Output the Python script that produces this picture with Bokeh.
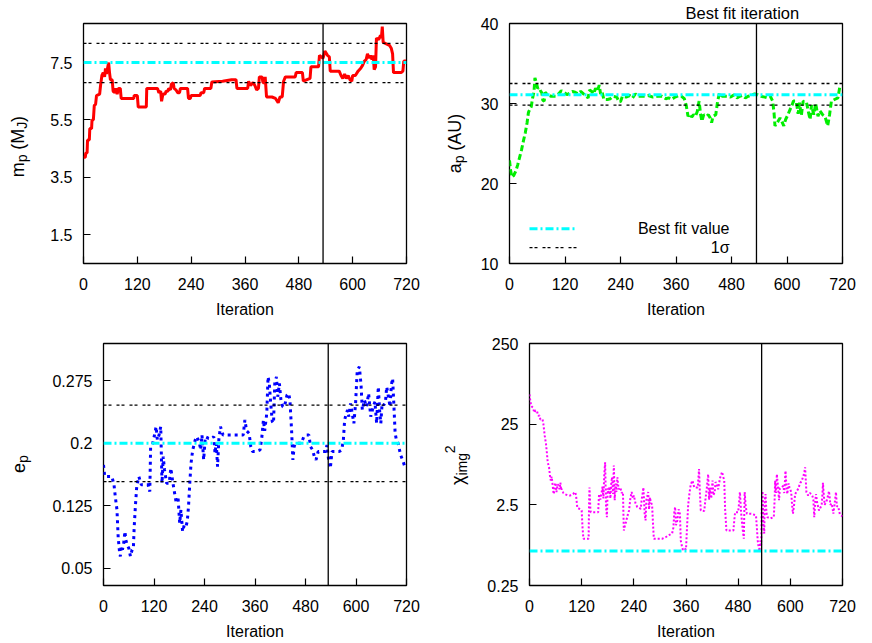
import math
from bokeh.plotting import figure
from bokeh.models import Range1d, FixedTicker, Span, Label, PrintfTickFormatter, ColumnDataSource
from bokeh.core.properties import value
from bokeh.layouts import column, row
from bokeh.embed import file_html
from bokeh.resources import INLINE

FONT = "Liberation Sans"

# ---------------- data ----------------
iter_ticks = [0, 120, 240, 360, 480, 600, 720]
best_iter = 534

# planet mass chain
m_iter = [0, 4, 5, 8, 9, 13, 14, 18, 19, 22, 24, 27, 29, 36, 38, 41, 44, 47, 49, 51, 53, 56, 58, 60, 64, 66, 70, 72,
          75, 78, 82, 84, 112, 113, 120, 122, 140, 141, 165, 168, 172, 174, 177, 182, 184, 188, 190, 194, 196, 200,
          202, 206, 210, 214, 216, 232, 234, 238, 240, 260, 262, 268, 270, 284, 286, 310, 330, 340, 342, 366, 368,
          372, 378, 382, 386, 390, 392, 398, 400, 403, 405, 408, 420, 428, 434, 438, 443, 446, 450, 472, 474, 488,
          490, 505, 507, 524, 526, 534, 538, 544, 548, 550, 570, 574, 578, 582, 586, 590, 594, 598, 600, 606, 612,
          618, 622, 626, 630, 633, 637, 640, 643, 646, 648, 651, 653, 658, 662, 664, 666, 668, 675, 682, 686, 689,
          691, 708, 712, 714, 719]
m_vals = [4.2, 4.2, 4.35, 4.35, 4.8, 4.8, 5.2, 5.2, 5.5, 5.5, 6.0, 6.05, 6.35, 6.4, 6.7, 7.05, 7.15, 7.0, 7.3, 7.1,
          7.25, 7.5, 7.15, 6.9, 6.9, 6.5, 6.45, 6.6, 6.4, 6.6, 6.6, 6.25, 6.25, 6.35, 6.35, 5.95, 5.95, 6.6, 6.6,
          6.45, 6.5, 6.15, 6.4, 6.4, 6.5, 6.5, 6.6, 6.55, 6.75, 6.8, 6.6, 6.55, 6.45, 6.45, 6.6, 6.6, 6.25, 6.25,
          6.35, 6.35, 6.45, 6.45, 6.6, 6.6, 6.82, 6.85, 6.9, 6.9, 6.6, 6.6, 6.85, 6.7, 6.8, 6.7, 6.55, 6.6, 7.0,
          7.0, 6.8, 6.8, 7.0, 6.3, 6.3, 6.25, 6.1, 6.3, 6.3, 6.85, 7.0, 7.0, 7.15, 7.15, 6.85, 6.95, 7.35, 7.35,
          7.75, 7.65, 7.9, 7.75, 7.7, 7.2, 7.2, 7.05, 6.95, 7.1, 6.95, 7.05, 6.9, 6.85, 7.05, 7.05, 7.2, 7.3, 7.4,
          7.55, 7.6, 7.8, 7.65, 7.75, 7.6, 7.75, 7.25, 7.35, 8.35, 8.3, 8.45, 8.35, 8.75, 8.2, 8.15, 8.1, 8.0, 7.8,
          7.15, 7.15, 7.2, 7.55, 7.55]
m_best = 7.5
m_sigma = [6.8, 8.17]

# semi-major axis chain
a_iter = [0, 2, 5, 9, 14, 18, 22, 26, 30, 34, 38, 41, 44, 47, 50, 53, 55, 58, 61, 64, 67, 70, 72, 75, 77, 82, 90,
          100, 106, 112, 118, 124, 130, 136, 142, 148, 154, 160, 166, 170, 173, 178, 182, 186, 190, 194, 197, 200,
          204, 212, 218, 224, 232, 236, 240, 244, 252, 260, 266, 272, 278, 290, 300, 310, 320, 330, 338, 344, 350,
          358, 366, 372, 378, 382, 386, 390, 394, 398, 402, 406, 410, 413, 416, 420, 426, 430, 434, 437, 440, 446,
          450, 454, 460, 470, 478, 486, 492, 498, 504, 510, 516, 522, 530, 536, 544, 552, 558, 564, 569, 572, 574,
          578, 581, 585, 590, 593, 597, 602, 607, 611, 614, 620, 624, 627, 631, 635, 642, 646, 650, 653, 658, 662,
          667, 671, 677, 682, 686, 688, 692, 696, 703, 710, 714, 720]
a_vals = [22.9, 21.8, 20.8, 21.0, 21.6, 22.4, 23.3, 24.2, 25.3, 26.3, 27.6, 28.9, 29.3, 29.6, 30.7, 31.5, 33.2, 32.6,
          31.9, 32.0, 31.6, 31.3, 30.4, 30.3, 31.4, 31.1, 30.9, 30.9, 31.2, 31.6, 31.4, 31.1, 31.3, 31.5, 31.4, 31.2,
          31.5, 31.2, 30.9, 30.7, 31.7, 31.5, 31.2, 31.9, 31.5, 32.3, 31.2, 31.5, 30.5, 30.5, 30.6, 30.9, 30.8, 30.3,
          30.2, 30.9, 30.8, 31.0, 30.7, 31.2, 30.9, 30.9, 31.0, 30.8, 30.9, 30.9, 30.6, 30.7, 30.5, 30.8, 31.0, 30.9,
          30.6, 29.8, 28.4, 28.7, 28.3, 28.6, 28.4, 29.0, 30.3, 28.7, 27.8, 28.6, 28.4, 28.6, 28.2, 27.6, 28.4, 28.6,
          30.3, 31.3, 30.9, 30.9, 30.8, 31.1, 30.7, 30.9, 31.0, 30.7, 30.9, 31.0, 31.2, 31.1, 30.9, 30.8, 30.7, 30.9,
          30.3, 28.8, 27.2, 27.5, 27.8, 28.2, 27.6, 27.2, 28.0, 28.6, 29.3, 29.8, 30.3, 30.3, 28.7, 30.1, 28.5, 30.3,
          30.2, 29.0, 28.0, 29.8, 28.6, 30.0, 28.4, 29.1, 28.6, 28.4, 27.6, 27.2, 28.6, 30.3, 30.5, 30.7, 32.0, 32.0]
a_best = 31.1
a_sigma = [29.8, 32.5]

# eccentricity chain
e_iter = [0, 3, 20, 25, 28, 32, 35, 38, 40, 42, 45, 48, 51, 53, 56, 60, 64, 68, 71, 73, 76, 79, 84, 90, 106, 110,
          112, 117, 122, 125, 128, 132, 136, 139, 142, 145, 150, 156, 160, 165, 169, 173, 177, 181, 184, 188, 192,
          196, 199, 202, 205, 208, 212, 218, 222, 228, 231, 234, 238, 242, 250, 258, 262, 265, 268, 271, 274, 278,
          284, 300, 320, 332, 336, 340, 346, 350, 354, 362, 372, 376, 380, 383, 388, 391, 394, 397, 401, 404, 407,
          411, 414, 418, 422, 426, 430, 436, 440, 443, 447, 450, 453, 456, 470, 476, 482, 488, 492, 497, 501, 505,
          510, 520, 528, 531, 535, 539, 543, 550, 560, 566, 570, 573, 577, 580, 583, 587, 591, 595, 599, 603, 608,
          612, 615, 620, 625, 630, 635, 640, 645, 649, 653, 656, 659, 662, 666, 670, 673, 677, 681, 684, 687, 690,
          693, 696, 700, 706, 712, 716, 720]
e_vals = [0.174, 0.160, 0.160, 0.150, 0.136, 0.120, 0.086, 0.070, 0.064, 0.076, 0.072, 0.080, 0.094, 0.084, 0.078,
          0.074, 0.064, 0.072, 0.074, 0.100, 0.126, 0.148, 0.160, 0.150, 0.150, 0.142, 0.196, 0.200, 0.212, 0.220,
          0.204, 0.210, 0.220, 0.152, 0.184, 0.168, 0.152, 0.152, 0.170, 0.152, 0.140, 0.128, 0.136, 0.104, 0.120,
          0.094, 0.102, 0.100, 0.106, 0.124, 0.152, 0.176, 0.192, 0.204, 0.208, 0.200, 0.192, 0.210, 0.180, 0.208,
          0.206, 0.206, 0.208, 0.188, 0.200, 0.172, 0.204, 0.220, 0.210, 0.210, 0.210, 0.210, 0.228, 0.215, 0.212,
          0.196, 0.190, 0.190, 0.192, 0.206, 0.228, 0.215, 0.236, 0.280, 0.272, 0.250, 0.226, 0.224, 0.272, 0.280,
          0.256, 0.272, 0.250, 0.244, 0.244, 0.258, 0.260, 0.252, 0.215, 0.180, 0.196, 0.200, 0.200, 0.208, 0.210,
          0.210, 0.196, 0.192, 0.184, 0.180, 0.190, 0.190, 0.190, 0.198, 0.180, 0.170, 0.190, 0.190, 0.190, 0.192,
          0.204, 0.228, 0.236, 0.240, 0.232, 0.248, 0.236, 0.224, 0.248, 0.288, 0.292, 0.270, 0.240, 0.252, 0.244,
          0.260, 0.232, 0.242, 0.250, 0.224, 0.268, 0.240, 0.224, 0.248, 0.246, 0.250, 0.268, 0.256, 0.244, 0.270,
          0.278, 0.246, 0.212, 0.204, 0.200, 0.186, 0.178, 0.172, 0.170]
e_best = 0.2
e_sigma = [0.154, 0.246]

# imaging chi-square chain
c_iter = [0, 2, 4, 8, 11, 14, 17, 20, 23, 25, 30, 32, 35, 38, 40, 42, 45, 47, 49, 51, 53, 55, 56, 58, 60, 62, 63,
          65, 67, 69, 71, 73, 74, 78, 81, 87, 93, 100, 105, 107, 110, 117, 120, 122, 124, 136, 137, 138, 140, 141,
          158, 160, 163, 166, 168, 170, 172, 174, 176, 178, 180, 182, 184, 186, 188, 190, 192, 194, 196, 198, 200,
          202, 205, 209, 212, 215, 216, 217, 219, 221, 225, 229, 232, 235, 238, 240, 244, 248, 252, 256, 258, 260,
          262, 264, 265, 267, 269, 271, 273, 275, 277, 279, 282, 284, 286, 305, 313, 320, 328, 331, 333, 335, 337,
          340, 343, 346, 348, 351, 353, 356, 360, 362, 365, 368, 371, 375, 377, 379, 383, 387, 390, 392, 394, 402,
          405, 408, 411, 413, 415, 418, 421, 423, 426, 428, 431, 434, 438, 443, 446, 448, 450, 453, 469, 471, 473,
          480, 482, 484, 487, 490, 493, 495, 497, 500, 510, 521, 523, 525, 527, 529, 531, 533, 534, 536, 538, 540,
          541, 543, 545, 547, 554, 562, 564, 565, 567, 569, 572, 574, 576, 579, 584, 586, 589, 591, 593, 596, 598,
          602, 604, 606, 609, 611, 615, 618, 623, 626, 629, 632, 634, 636, 637, 641, 645, 648, 651, 653, 655, 657,
          659, 662, 666, 669, 672, 674, 675, 677, 679, 682, 684, 687, 689, 691, 692, 695, 697, 699, 702, 705, 707,
          710, 714, 720]
c_vals = [58.6, 48, 42, 40, 34.8, 37, 36.6, 31.7, 32, 28.6, 28.6, 25, 18, 14.2, 11, 8.4, 7.3, 5.8, 5.0, 5.6, 4.5,
          3.6, 3.4, 4.4, 4.7, 3.6, 3.95, 4.5, 4.3, 3.9, 4.7, 3.8, 3.95, 3.5, 3.4, 3.3, 3.26, 3.4, 3.6, 3.3, 2.3,
          2.2, 2.13, 1.3, 0.95, 0.95, 2.5, 4.1, 2.2, 2.03, 2.03, 3.4, 2.9, 3.6, 4.2, 3.0, 6.0, 8.4, 2.4, 1.76, 4.0,
          3.4, 4.2, 3.0, 4.6, 5.5, 3.4, 7.7, 2.85, 4.6, 3.6, 5.5, 3.9, 4.1, 3.5, 3.6, 2.0, 1.2, 1.35, 1.45, 1.8,
          2.13, 3.0, 3.6, 3.0, 3.26, 2.6, 2.35, 2.3, 2.23, 2.9, 3.4, 4.1, 2.5, 1.9, 1.6, 2.9, 3.2, 3.6, 2.2, 3.1,
          2.7, 2.5, 1.5, 0.95, 0.95, 0.99, 1.05, 1.1, 1.3, 2.0, 2.35, 1.4, 1.6, 2.2, 1.94, 0.9, 0.75, 0.69, 0.72,
          0.7, 1.2, 2.5, 3.5, 4.5, 5.0, 4.5, 4.1, 4.1, 4.1, 6.95, 3.5, 2.13, 2.1, 3.0, 4.1, 6.0, 2.9, 4.1, 3.0,
          5.0, 3.3, 3.6, 4.8, 4.5, 3.9, 5.3, 6.4, 5.5, 5.0, 2.2, 1.2, 1.2, 1.6, 2.03, 2.03, 2.6, 3.6, 1.94, 1.3,
          0.95, 3.6, 2.5, 1.94, 1.94, 1.85, 1.3, 0.9, 0.75, 0.67, 0.9, 0.8, 2.0, 3.7, 1.5, 1.1, 2.8, 3.4, 2.0,
          1.76, 1.7, 1.76, 3.0, 5.0, 3.5, 6.0, 4.0, 2.85, 4.0, 4.1, 4.3, 3.5, 6.6, 4.2, 3.4, 4.6, 4.1, 3.6, 2.5,
          1.94, 2.6, 3.4, 3.7, 3.95, 4.7, 4.9, 5.5, 6.2, 7.3, 4.5, 3.6, 3.26, 3.5, 3.4, 3.2, 2.9, 1.76, 2.6, 3.4,
          2.6, 2.13, 2.3, 2.45, 3.5, 4.7, 3.3, 2.5, 2.7, 2.85, 3.3, 3.7, 2.9, 2.5, 2.6, 2.3, 1.94, 2.6, 3.6, 2.4,
          2.4, 1.9, 1.8]
c_best = 0.67

# ---------------- helpers ----------------
CW = {"a": 0.556, "e": 0.556, "g": 0.556, "i": 0.222, "m": 0.833, "p": 0.556, "J": 0.5, "M": 0.833,
      "A": 0.667, "U": 0.722, "(": 0.333, ")": 0.333, " ": 0.278, "2": 0.556, "χ": 0.52}

TOP_H, BOT_H = 320, 322
TOP_BT, TOP_BB = 22, 56
BOT_BT, BOT_BB = 23, 56
LAB_W = 36


def text_w(s, size):
    return sum(CW.get(ch, 0.556) for ch in s) * size


def make_fig(w, h, bl, br, bt, bb, yr, yticks, ylog=False):
    kw = dict(width=w, height=h, output_backend="svg", toolbar_location=None,
              x_range=Range1d(0, 720), y_range=Range1d(*yr),
              min_border_left=bl, min_border_right=br, min_border_top=bt, min_border_bottom=bb)
    if ylog:
        kw["y_axis_type"] = "log"
    p = figure(**kw)
    p.grid.visible = False
    p.background_fill_color = "white"
    p.border_fill_color = "white"
    p.outline_line_color = "black"
    p.outline_line_width = 1.3
    p.outline_line_alpha = 1.0
    for ax in p.axis:
        ax.axis_line_color = None
        ax.major_tick_in = 7
        ax.major_tick_out = 0
        ax.major_tick_line_color = "black"
        ax.major_tick_line_width = 1.2
        ax.minor_tick_line_color = None
        ax.major_label_text_font = FONT
        ax.major_label_text_font_size = "16px"
        ax.major_label_text_color = "black"
    p.xaxis.ticker = FixedTicker(ticks=iter_ticks)
    p.xaxis.major_label_standoff = 14
    p.xaxis.axis_label = "Iteration"
    p.xaxis.axis_label_text_font = FONT
    p.xaxis.axis_label_text_font_size = "16px"
    p.xaxis.axis_label_text_font_style = "normal"
    p.xaxis.axis_label_text_color = "black"
    p.xaxis.axis_label_standoff = 8
    p.yaxis.ticker = FixedTicker(ticks=yticks)
    p.yaxis.formatter = PrintfTickFormatter(format="%g")
    p.yaxis.major_label_standoff = 11
    return p


def label_fig(h, bt, bb, pieces, x0, y0):
    # narrow strip carrying the rotated y-axis label; its frame shares the
    # neighbour's top/bottom borders, data y = pixels above the strip's bottom edge
    # pieces: (text, font size, baseline shift to the right, extra gap before the piece)
    f = figure(width=LAB_W, height=h, output_backend="svg", toolbar_location=None,
               x_range=Range1d(0, LAB_W), y_range=Range1d(bb, h - bt),
               x_axis_location=None, y_axis_location=None,
               min_border_left=0, min_border_right=0, min_border_top=bt, min_border_bottom=bb)
    f.grid.visible = False
    f.outline_line_color = None
    f.background_fill_color = "white"
    f.border_fill_color = "white"
    xs, ys, ts, ss = [], [], [], []
    y = y0
    for txt, size, shift, gap in pieces:
        y += gap
        xs.append(x0 + shift)
        ys.append(y)
        ts.append(txt)
        ss.append(f"{size}px")
        y += text_w(txt, size)
    src = ColumnDataSource(dict(x=xs, y=ys, text=ts, size=ss))
    f.text(x="x", y="y", text="text", source=src, angle=math.pi / 2, text_font_size="size",
           text_font=value(FONT), text_align="left", text_baseline="alphabetic", text_color="black")
    return f


def ref_lines(p, best, sigma):
    for s in sigma:
        p.add_layout(Span(location=s, dimension="width", line_color="black", line_width=1.3,
                          line_dash="3 2 3 5"))
    p.add_layout(Span(location=best, dimension="width", line_color="#00ffff", line_width=3,
                      line_dash="8 3 2 3"))
    p.add_layout(Span(location=best_iter, dimension="height", line_color="black", line_width=1.3))


SP = 5  # width of a space at 18px

# ---------------- panels ----------------
p1 = make_fig(436 - LAB_W, TOP_H, 83 - LAB_W, 30, TOP_BT, TOP_BB, (0.5, 8.86), [1.5, 3.5, 5.5, 7.5])
p1.line(m_iter, m_vals, line_color="#ff0000", line_width=3)
ref_lines(p1, m_best, m_sigma)
l1 = label_fig(TOP_H, TOP_BT, TOP_BB,
               [("m", 18, 0, 0), ("p", 14, 4, 0), ("(", 18, 0, SP), ("M", 18, 0, 0), ("J", 14, 4, 0),
                (")", 18, 0, 0)], 17, 143)

p2 = make_fig(436 - LAB_W, TOP_H, 73 - LAB_W, 30, TOP_BT, TOP_BB, (10, 40), [10, 20, 30, 40])
p2.title.text = "Best fit iteration"
p2.title.text_font = FONT
p2.title.text_font_size = "16.5px"
p2.title.text_font_style = "normal"
p2.title.text_color = "black"
p2.title.align = "left"
p2.title.offset = 176
p2.title.standoff = 3
p2.line(a_iter, a_vals, line_color="#00ee00", line_width=3, line_dash="6 3")
ref_lines(p2, a_best, a_sigma)
l2 = label_fig(TOP_H, TOP_BT, TOP_BB, [("a", 18, 0, 0), ("p", 14, 4, 0), ("(AU)", 18, 0, SP)], 18, 147)
# key (legend) in panel 2, positioned in frame pixels
fw2, fh2 = 333.0, 242.0


def fx2(px):
    return px / fw2 * 720


def fy2(py):
    return 10 + py / fh2 * 30


p2.line([fx2(20), fx2(68)], [fy2(35), fy2(35)], line_color="#00ffff", line_width=3, line_dash="8 3 2 3")
p2.line([fx2(20), fx2(68)], [fy2(16), fy2(16)], line_color="black", line_width=1.3, line_dash="3 2 3 5")
p2.add_layout(Label(x=220, y=35, x_units="screen", y_units="screen", text="Best fit value",
                    text_font=FONT, text_font_size="16px", text_align="right",
                    text_baseline="middle", text_color="black"))
p2.add_layout(Label(x=220, y=16, x_units="screen", y_units="screen", text="1σ",
                    text_font=FONT, text_font_size="16px", text_align="right",
                    text_baseline="middle", text_color="black"))

p3 = make_fig(436 - LAB_W, BOT_H, 103 - LAB_W, 30, BOT_BT, BOT_BB, (0.029, 0.32), [0.05, 0.125, 0.2, 0.275])
p3.line(e_iter, e_vals, line_color="#0000ff", line_width=3, line_dash="3 4")
ref_lines(p3, e_best, e_sigma)
l3 = label_fig(BOT_H, BOT_BT, BOT_BB, [("e", 18, 0, 0), ("p", 14, 4, 0)], 18, 169)

p4 = make_fig(436 - LAB_W, BOT_H, 93 - LAB_W, 30, BOT_BT, BOT_BB, (0.25, 250), [0.25, 2.5, 25, 250], ylog=True)
p4.line(c_iter, c_vals, line_color="#ff00ff", line_width=2, line_dash="2 2")
p4.add_layout(Span(location=c_best, dimension="width", line_color="#00ffff", line_width=3,
                   line_dash="8 3 2 3"))
p4.add_layout(Span(location=best_iter, dimension="height", line_color="black", line_width=1.3))
l4 = label_fig(BOT_H, BOT_BT, BOT_BB, [("χ", 18, 0, 0), ("img", 14, 4, 0), ("2", 14, -8, 0)], 21, 157)

layout = column(row(l1, p1, l2, p2), row(l3, p3, l4, p4))
open("out.html", "w").write(file_html(layout, INLINE))
